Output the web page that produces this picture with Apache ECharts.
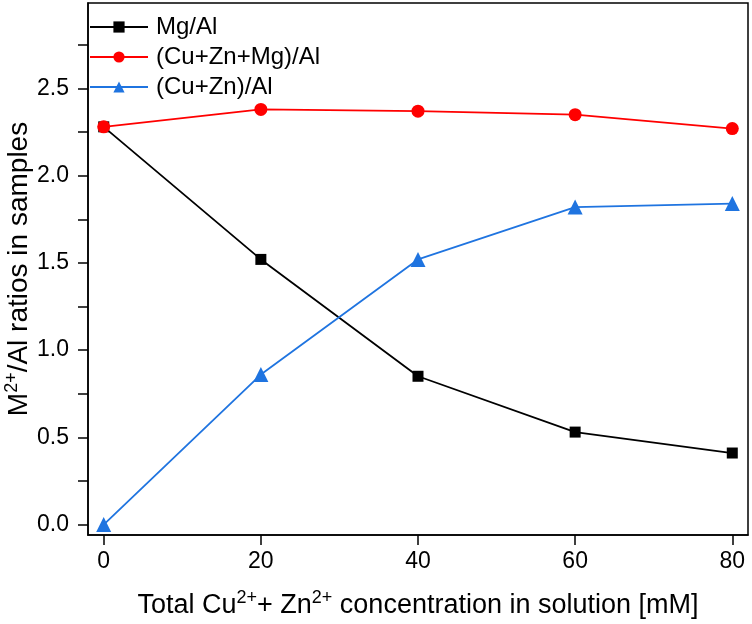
<!DOCTYPE html>
<html>
<head>
<meta charset="utf-8">
<script src="https://cdn.jsdelivr.net/npm/echarts@6/dist/echarts.min.js"></script>
<style>html,body{margin:0;padding:0;background:#fff}#c{width:752px;height:624px}</style>
</head>
<body>
<div id="c"></div>
<script>
const concentrations = [0, 20, 40, 60, 80];
const mgAl = [2.28, 1.52, 0.85, 0.53, 0.41];
const cuZnMgAl = [2.28, 2.38, 2.37, 2.35, 2.27];
const cuZnAl = [0.0, 0.86, 1.52, 1.82, 1.84];
const xTicks = [0, 20, 40, 60, 80];
const yLabels = [0, 0.5, 1.0, 1.5, 2.0, 2.5];
const yTicks = [0, 0.25, 0.5, 0.75, 1.0, 1.25, 1.5, 1.75, 2.0, 2.25, 2.5, 2.75];
const seriesNames = ['Mg/Al', '(Cu+Zn+Mg)/Al', '(Cu+Zn)/Al'];

const FONT = 'Liberation Sans, Arial, sans-serif';
const pairs = (ys) => concentrations.map((x, i) => [x, ys[i]]);

const chart = echarts.init(document.getElementById('c'), null, {renderer: 'canvas'});
chart.setOption({
  animation: false,
  backgroundColor: '#fff',
  textStyle: {fontFamily: FONT, color: '#000'},
  grid: {left: 88, right: 4, top: 3, bottom: 89, containLabel: false, outerBoundsMode: 'none',
    show: true, borderColor: '#000', borderWidth: 1.5, backgroundColor: 'transparent'},
  legend: {
    left: 84, top: 10, orient: 'vertical',
    itemWidth: 58, itemHeight: 14, itemGap: 6,
    textStyle: {fontFamily: FONT, fontSize: 24, color: '#000', lineHeight: 24, padding: [0,0,0,3]},
    data: seriesNames
  },
  xAxis: {
    type: 'value', min: -2, max: 82,
    axisLine: {show: true, onZero: false, lineStyle: {color: '#000', width: 1.5}},
    axisTick: {show: true, length: 10, inside: false, customValues: xTicks, lineStyle: {color: '#000', width: 1.5}},
    axisLabel: {customValues: xTicks, fontSize: 23, color: '#000', margin: 15, fontFamily: FONT},
    splitLine: {show: false},
    name: '{a|Total Cu}{s|2+}{a|+ Zn}{s|2+}{a| concentration in solution [mM]}',
    nameLocation: 'middle', nameGap: 54, nameMoveOverlap: false,
    nameTextStyle: {rich: {
      a: {fontSize: 27, fontFamily: FONT, color: '#000', lineHeight: 30, verticalAlign: 'bottom'},
      s: {fontSize: 18, fontFamily: FONT, color: '#000', lineHeight: 30, verticalAlign: 'top'}
    }}
  },
  yAxis: {
    type: 'value', min: -0.06, max: 2.99,
    axisLine: {show: true, onZero: false, lineStyle: {color: '#000', width: 1.5}},
    axisTick: {show: true, length: 10, inside: false, customValues: yTicks, lineStyle: {color: '#000', width: 1.5}},
    axisLabel: {customValues: yLabels, fontSize: 23, color: '#000', margin: 19, fontFamily: FONT,
      formatter: (v) => v.toFixed(1)},
    splitLine: {show: false},
    name: '{a|M}{s|2+}{a|/Al ratios in samples}',
    nameLocation: 'middle', nameGap: 55, nameRotate: 90, nameMoveOverlap: false,
    nameTextStyle: {rich: {
      a: {fontSize: 28, fontFamily: FONT, color: '#000', lineHeight: 30, verticalAlign: 'bottom'},
      s: {fontSize: 18, fontFamily: FONT, color: '#000', lineHeight: 30, verticalAlign: 'top'}
    }}
  },
  series: [
    {name: seriesNames[0], type: 'line', data: pairs(mgAl), symbol: 'rect', symbolSize: 11,
     itemStyle: {color: '#000'}, lineStyle: {color: '#000', width: 1.8}},
    {name: seriesNames[1], type: 'line', data: pairs(cuZnMgAl), symbol: 'circle', symbolSize: 13,
     itemStyle: {color: '#ff0000'}, lineStyle: {color: '#ff0000', width: 1.8}},
    {name: seriesNames[2], type: 'line', data: pairs(cuZnAl), symbol: 'triangle', symbolSize: 15,
     itemStyle: {color: '#1f74e0'}, lineStyle: {color: '#1f74e0', width: 1.8}}
  ]
});
</script>
</body>
</html>
